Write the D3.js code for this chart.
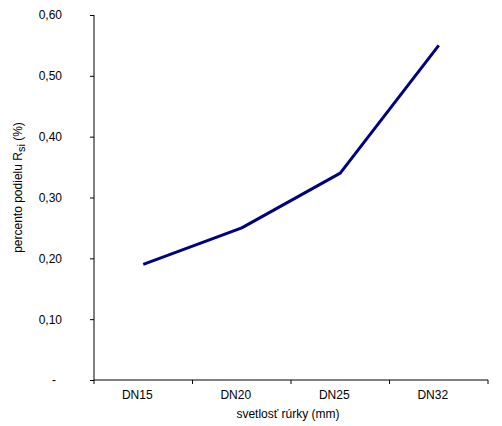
<!DOCTYPE html>
<html>
<head>
<meta charset="utf-8">
<script src="https://cdn.jsdelivr.net/npm/d3@7"></script>
<style>
  body { margin: 0; background: #fff; }
  text { font-family: Arial, "Liberation Sans", sans-serif; font-size: 12px; fill: #000; }
</style>
</head>
<body>
<div id="chart"></div>
<script>
// data
const categories = ["DN15", "DN20", "DN25", "DN32"];
const values = [0.19, 0.25, 0.34, 0.55];
const yTicks = [0, 0.1, 0.2, 0.3, 0.4, 0.5, 0.6];

// dimensions and margins
const margin = {top: 15, right: 14, bottom: 46, left: 94},
    width = 502 - margin.left - margin.right,
    height = 426 - margin.top - margin.bottom;

const svg = d3.select("#chart")
  .append("svg")
    .attr("width", 502)
    .attr("height", 426)
  .append("g")
    .attr("transform", `translate(${margin.left},${margin.top})`);

// X scale
const x = d3.scaleBand()
  .domain(categories)
  .range([0, width]);

// Y scale
const y = d3.scaleLinear()
  .domain([0, 0.6])
  .range([height, 0]);

// Y axis
const yAxis = svg.append("g")
  .call(d3.axisLeft(y)
    .tickValues(yTicks)
    .tickSize(4)
    .tickPadding(28)
    .tickFormat(d => d === 0 ? "-" : d3.format(".2f")(d).replace(".", ",")));
yAxis.select(".domain").attr("stroke", "#000").attr("d", `M0,0V${height}`);
yAxis.selectAll(".tick line").attr("stroke", "#000");
yAxis.selectAll(".tick text").style("font-size", "12px");
yAxis.selectAll(".tick").filter(d => d === 0).select("text").attr("dx", -6);

// X axis with ticks at band boundaries
const xAxis = svg.append("g")
  .attr("transform", `translate(0,${height})`)
  .call(d3.axisBottom(x).tickSize(0).tickPadding(10));
xAxis.select(".domain").attr("stroke", "#000").attr("d", `M0,0H${width}`);
xAxis.selectAll(".tick text").style("font-size", "12px").attr("dx", -6);

xAxis.selectAll(".bound")
  .data(categories.map(c => x(c)).concat([width]))
  .join("line")
    .attr("class", "bound")
    .attr("x1", d => d).attr("x2", d => d)
    .attr("y1", 0).attr("y2", 4)
    .attr("stroke", "#000");

// line
svg.append("path")
  .datum(values)
  .attr("fill", "none")
  .attr("stroke", "#000080")
  .attr("stroke-width", 3)
  .attr("stroke-linejoin", "round")
  .attr("d", d3.line()
    .x((d, i) => x(categories[i]) + x.bandwidth() / 2)
    .y(d => y(d)));

// axis titles
svg.append("text")
  .attr("x", width / 2 - 3)
  .attr("y", height + 38)
  .attr("text-anchor", "middle")
  .text("svetlosť rúrky (mm)");

const yt = svg.append("text")
  .attr("transform", `translate(${-72},${height / 2 - 10}) rotate(-90)`)
  .attr("text-anchor", "middle");
yt.append("tspan").text("percento podielu R");
yt.append("tspan").attr("dy", 3).style("font-size", "11px").text("si");
yt.append("tspan").attr("dy", -3).text(" (%)");
</script>
</body>
</html>
